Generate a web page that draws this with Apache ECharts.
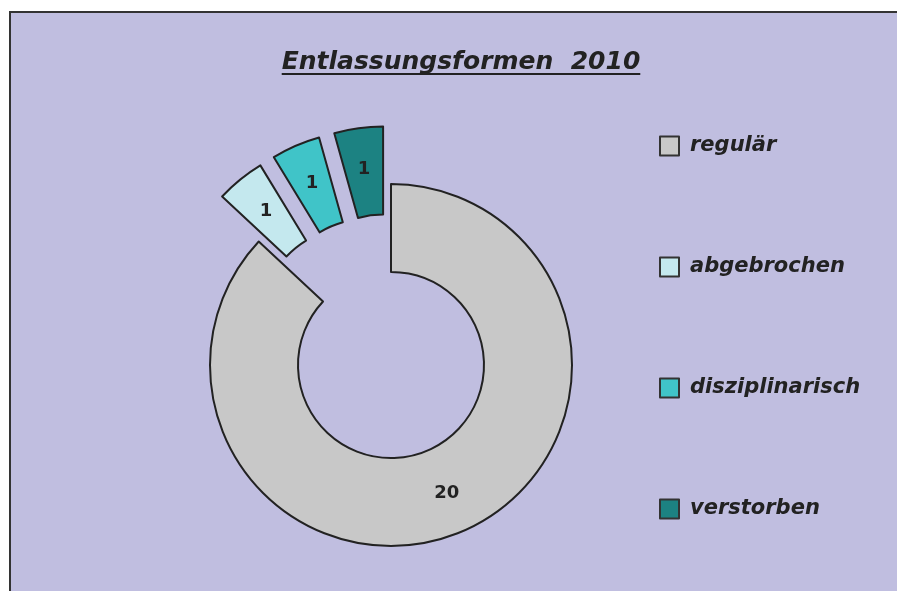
<!DOCTYPE html>
<html>
<head>
<meta charset="utf-8">
<script src="https://cdn.jsdelivr.net/npm/echarts@6/dist/echarts.min.js"></script>
<style>
  html, body { margin: 0; padding: 0; background: #fff; overflow: hidden; }
  #main {
    position: absolute; left: 9px; top: 11px;
    width: 900px; height: 600px;
    border-left: 2px solid #333; border-top: 2px solid #333;
    background: #c0bee0;
  }
</style>
</head>
<body>
<div id="main"></div>
<script>
// Entlassungsformen 2010
const categories = ['regulär', 'abgebrochen', 'disziplinarisch', 'verstorben']
const values = [20, 1, 1, 1]
const exploded = ['abgebrochen', 'disziplinarisch', 'verstorben']
const colors = ['#c8c8c8', '#c4e8ee', '#40c4c8', '#1c8282']

const titleText = 'Entlassungsformen  2010'
const font = 'DejaVu Sans'

const myChart = echarts.init(document.getElementById('main'))

// width of title for the underline
const ctx = document.createElement('canvas').getContext('2d')
ctx.font = 'italic bold 25px "' + font + '"'
const tw = ctx.measureText(titleText).width

myChart.setOption({
    animation: false,
    color: colors,
    title: {
        text: titleText,
        left: 'center',
        top: 32,
        textStyle: {
            fontFamily: font,
            fontSize: 25,
            fontStyle: 'italic',
            fontWeight: 'bold',
            color: '#222'
        }
    },
    graphic: [{
        type: 'rect',
        shape: { x: 450 - tw / 2, y: 60, width: tw, height: 2 },
        style: { fill: '#222' }
    }],
    legend: {
        orient: 'vertical',
        left: 643,
        top: 116,
        itemGap: 97,
        itemWidth: 19,
        itemHeight: 19,
        icon: 'rect',
        selectedMode: false,
        itemStyle: { borderColor: '#333', borderWidth: 2 },
        textStyle: {
            fontFamily: font,
            fontSize: 21,
            fontStyle: 'italic',
            fontWeight: 'bold',
            color: '#222',
            lineHeight: 24,
            padding: [0, 0, 0, 6]
        }
    },
    series: [{
        type: 'pie',
        center: [380, 352],
        radius: [93, 181],
        startAngle: 90,
        clockwise: true,
        selectedMode: 'multiple',
        selectedOffset: 58,
        emphasis: { disabled: true },
        itemStyle: { borderColor: '#222', borderWidth: 2 },
        label: {
            position: 'inside',
            formatter: '{c}',
            fontFamily: font,
            fontSize: 18,
            fontWeight: 'bold',
            color: '#222'
        },
        labelLine: { show: false },
        data: categories.map((c, i) => ({
            name: c,
            value: values[i],
            selected: exploded.includes(c)
        }))
    }]
})
</script>
</body>
</html>
